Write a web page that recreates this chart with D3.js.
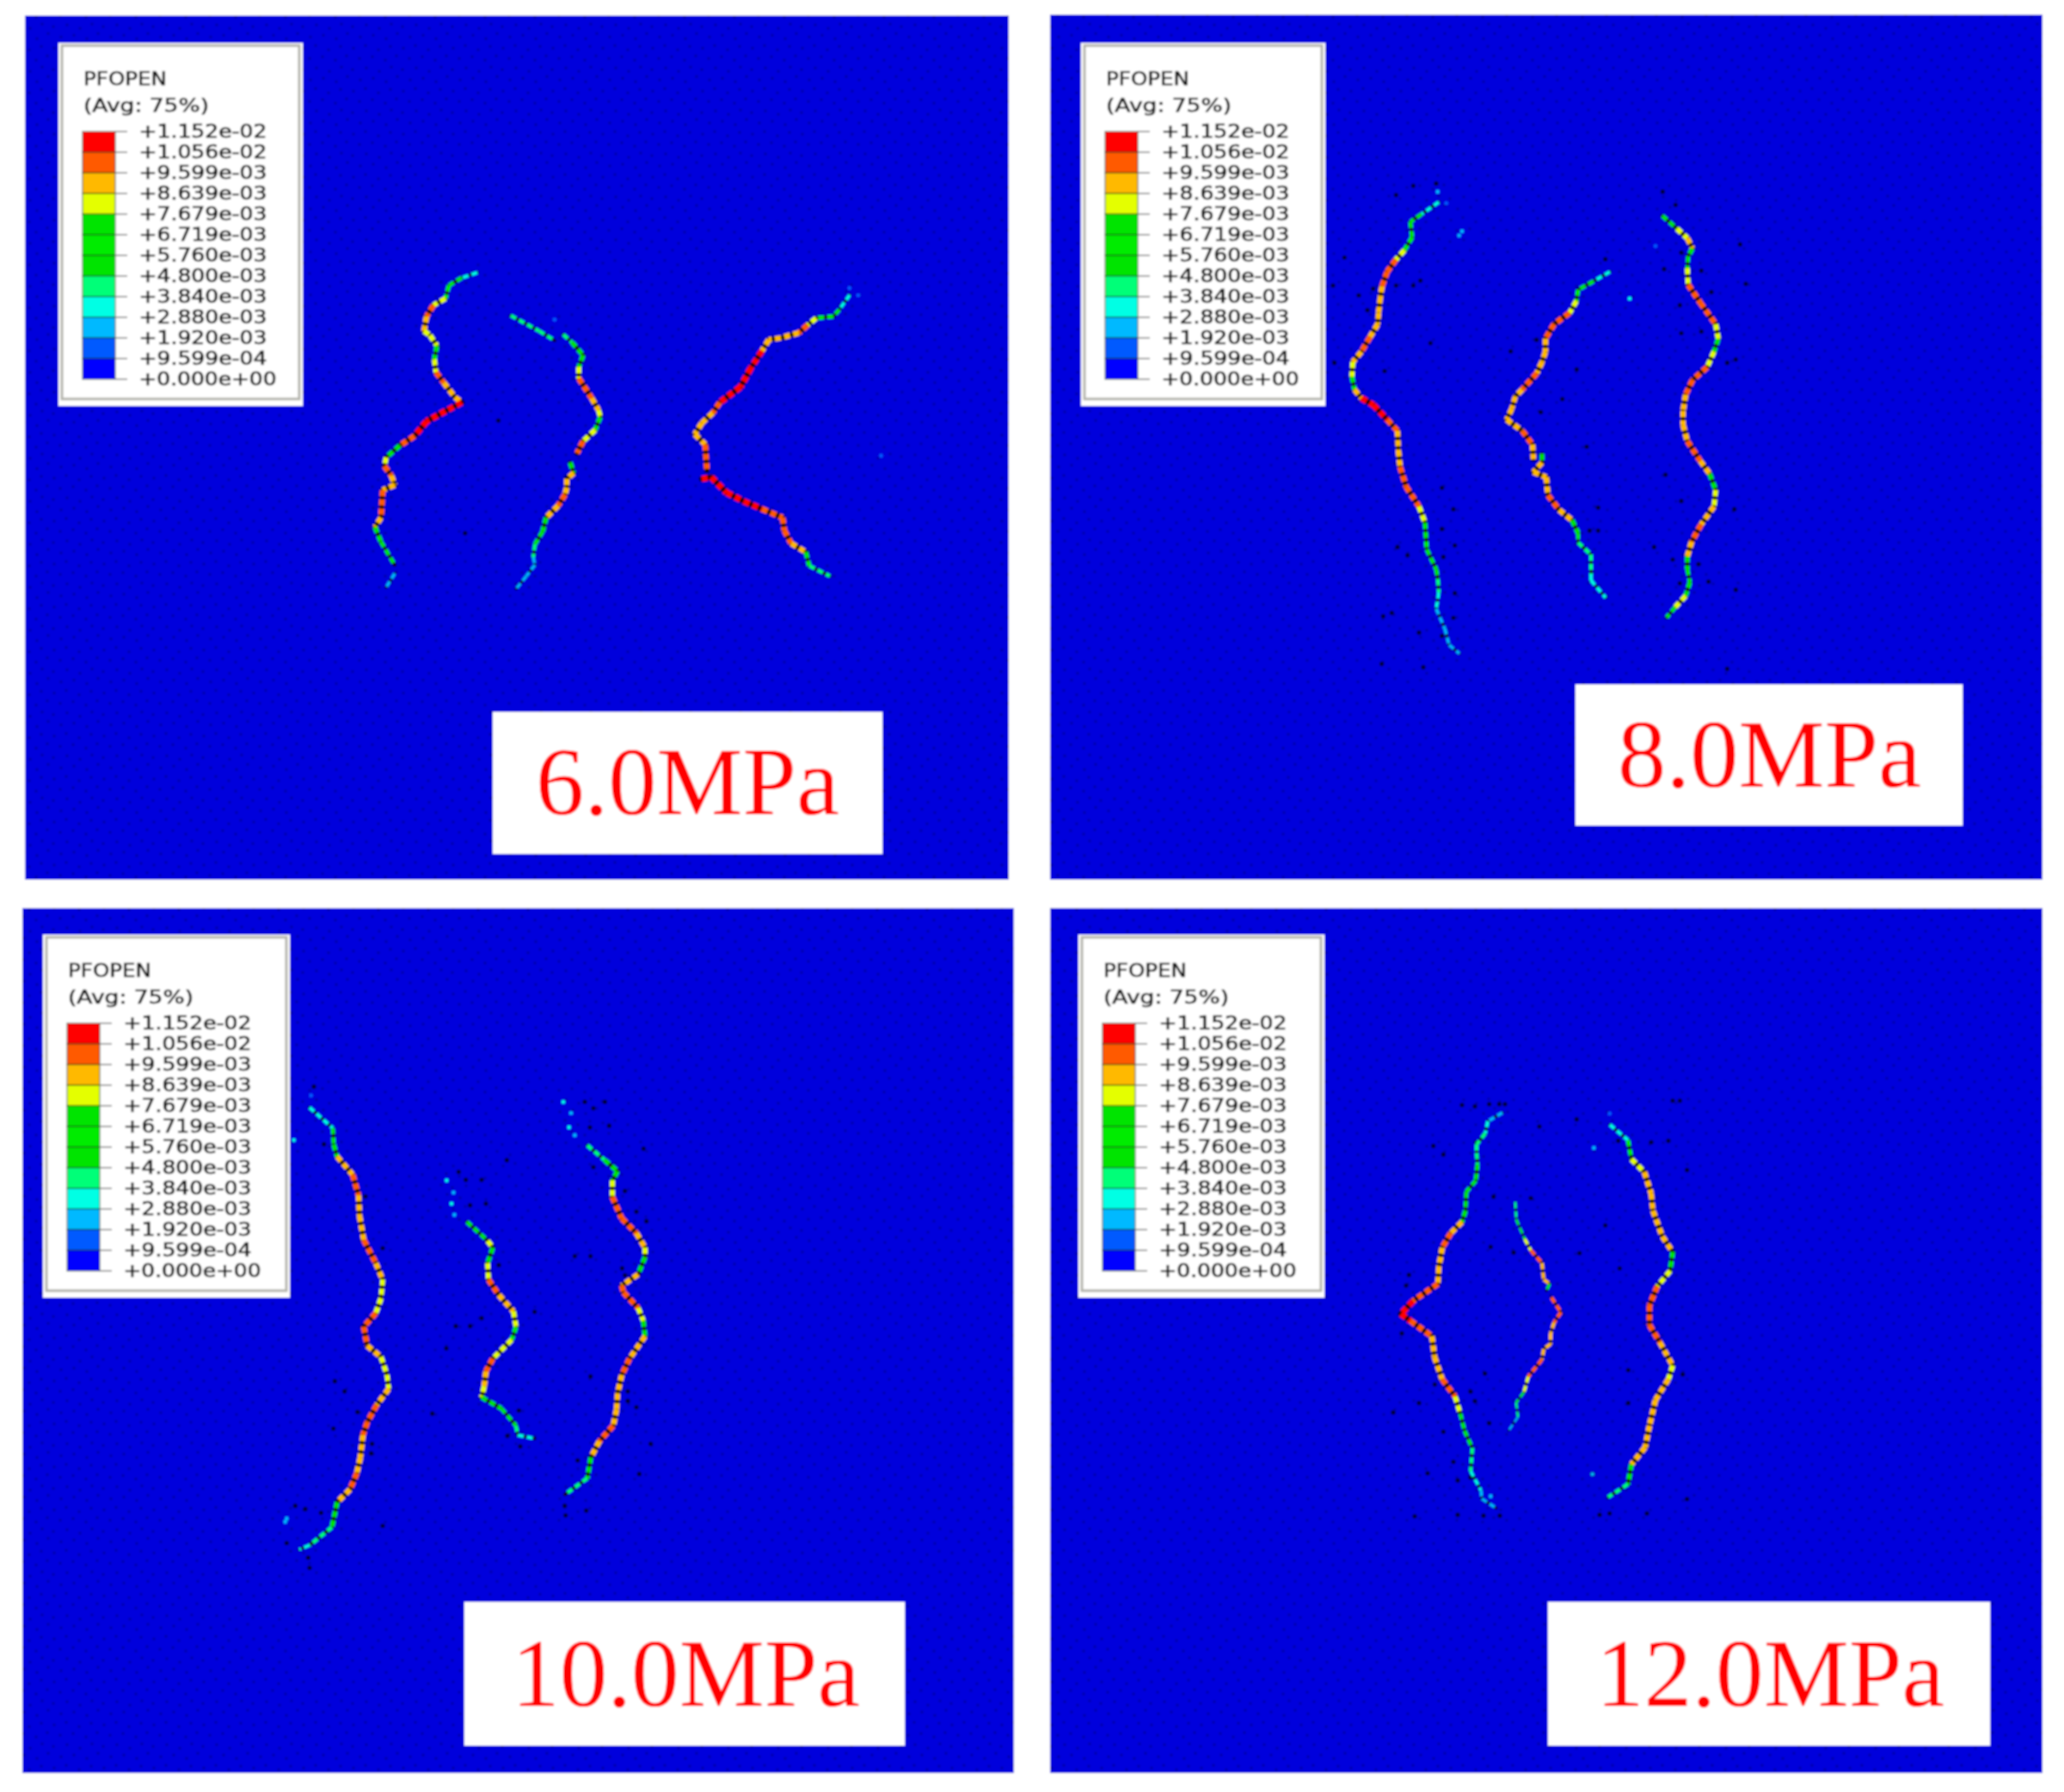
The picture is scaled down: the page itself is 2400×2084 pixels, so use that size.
<!DOCTYPE html>
<html><head><meta charset="utf-8">
<style>html,body{margin:0;padding:0;background:#fff}svg{display:block}</style>
<script src="https://cdn.jsdelivr.net/npm/d3@7/dist/d3.min.js"></script>
</head><body><div id="chart"></div>
<script>
// ---- DATA ----
const tickLabels = ["+1.152e-02","+1.056e-02","+9.599e-03","+8.639e-03","+7.679e-03","+6.719e-03","+5.760e-03","+4.800e-03","+3.840e-03","+2.880e-03","+1.920e-03","+9.599e-04","+0.000e+00"];
const bandColors = ["#ff0000","#ff5a00","#ffb900","#e4ff00","#00e400","#00ec00","#00e400","#00ff78","#00ffe4","#00b9ff","#005aff","#0000ff"];
const levels = [10.56,9.599,8.639,7.679,6.719,5.76,4.8,3.84,2.88,1.92,0.9599];
const legendTitle = ["PFOPEN","(Avg: 75%)"];
const pressures = ["6.0MPa","8.0MPa","10.0MPa","12.0MPa"];

// crack paths: [x, y, opening (1e-3)] in panel coordinates
const crack6a = [[526,299,2],[508,305,5],[493,314,6],[489,329,6],[475,337,10],[467,350,10],[464,367,9],[471,372,8],[479,384,8.5],[476,400,6],[478,415,10],[487,427,10],[500,444,9],[508,450,10],[489,460,11.5],[467,472,11.5],[453,489,11.5],[436,500,9],[420,514,6],[418,524,10],[426,535,10],[430,546,9],[416,552,10],[414,584,10.5],[407,595,8],[414,612,7],[430,639,4]];
const crack6a2 = [[430,649,3],[420,665,2.5]];
const crack6b = [[565,349,3],[598,367,5],[616,378,3]];
const crack6c = [[626,371,3],[636,380,6],[649,395,8.5],[644,409,6],[644,422,10],[659,445,10],[667,459,8.5],[669,467,7],[663,482,7],[649,495,10],[642,509,10]];
const crack6d = [[634,520,5],[638,532,10],[630,539,9],[630,549,9],[628,557,10],[620,570,10],[606,584,9],[602,600,6],[593,615,5.5],[591,630,3],[593,639,2.5],[583,652,2.5],[571,667,2]];
const crack6e = [[959,325,2.5],[947,342,4],[940,350,6],[920,352,6],[910,360,10],[900,369,10],[879,375,9],[865,377,9],[857,390,10],[844,410,11.5],[832,432,11.5],[808,450,11.5],[800,462,8.5],[787,474,10],[779,487,9],[791,499,10],[793,529,10]];
const crack6f = [[787,539,10],[798,537,11.5],[816,555,11.5],[836,565,11.5],[857,574,10.5],[881,584,10],[883,599,10],[891,614,10],[908,624,8],[912,640,5],[936,652,3.5]];

const crack8a = [[452,218,2.5],[432,232,5],[419,241,5.5],[421,259,6],[412,274,7],[402,285,10],[392,299,10],[386,316,10],[384,329,9],[382,347,9],[381,360,9],[372,375,10],[362,392,10],[352,404,8.5],[351,421,8],[354,436,6],[362,446,11.5],[376,454,11.5],[392,471,10.5],[404,484,9],[405,507,9],[407,526,10],[414,549,10],[429,572,10],[436,591,7],[438,622,6],[449,645,5.5],[451,657,5.5],[452,672,3.5],[449,691,2.8],[459,714,2.8],[464,733,2.5],[476,743,2]];
const crack8b = [[651,299,2],[632,310,5],[614,320,6],[612,333,6],[604,347,10],[586,360,10],[576,377,10],[576,392,9],[572,404,9],[566,417,10],[549,436,10],[541,444,9],[537,458,8.5],[531,471,9],[549,484,10],[561,500,10],[562,517,9]];
const crack8c = [[572,511,6],[572,521,8],[562,532,10],[577,538,9],[579,559,10],[592,576,10],[607,588,9],[614,603,6],[614,614,4],[629,628,5.5],[629,651,3],[629,658,4],[646,678,3]];
const crack8d = [[712,234,3.5],[729,249,8],[741,260,9],[747,272,9],[742,281,5],[741,295,6],[742,314,10],[756,335,10.5],[774,360,9],[777,377,8],[772,392,6],[764,410,10],[747,425,10],[739,442,10],[736,461,9],[736,477,9],[741,496,10],[756,519,10],[767,534,8],[774,553,7],[772,572,8.5],[757,593,10],[746,613,10],[741,630,9],[741,645,6],[744,660,5],[739,676,9],[727,689,7],[717,701,4]];

const crack10a = [[334,232,2.5],[361,256,5],[362,275,6],[366,289,8],[384,310,10],[391,334,10],[392,358,9],[397,386,10],[411,413,10],[419,432,8.5],[417,454,7],[411,471,10],[397,487,10],[401,509,10],[417,522,9],[424,543,7],[426,559,8.5],[412,578,10],[401,598,10],[396,613,10],[393,639,9],[389,657,10],[381,676,10],[366,691,9],[360,720,6],[334,741,3.5],[322,746,2.5]];
const crack10b = [[517,365,3.5],[541,387,8],[547,395,8.5],[541,413,6],[542,432,10],[554,450,10],[571,469,9],[574,487,7],[569,502,6],[547,524,10],[539,539,10],[537,556,9],[534,569,8],[557,582,5.5],[574,602,5],[576,613,4],[596,617,3]];
const crack10c = [[657,276,3.5],[677,293,6],[692,306,9],[686,317,6],[686,336,10],[697,361,10.5],[714,378,10],[724,395,9],[724,406,7],[716,426,8],[697,439,10],[699,447,10],[716,465,10],[722,480,6],[724,498,8.5],[706,524,10],[697,543,10],[692,565,9],[691,583,9],[687,602,10],[671,620,10],[661,639,9],[657,663,6],[631,682,3.5]];

const crack12a = [[526,238,2],[509,248,3.5],[506,262,3.5],[496,275,5],[496,285,3.5],[497,298,5.5],[495,317,6],[484,330,5],[483,352,6],[479,365,8],[466,378,10],[456,395,10],[452,418,9],[451,437,9],[422,457,11],[408,472,11.5],[419,480,11],[444,498,10],[447,522,9],[456,548,10],[471,568,10],[477,588,6],[482,608,5],[491,628,5.5],[489,655,2.8],[501,677,3],[502,687,2.5],[519,698,2]];
const crack12b = [[541,342,4],[542,362,5],[552,385,6],[559,398,10],[572,413,10],[574,432,9],[581,437,8.5],[577,445,4]];
const crack12c = [[583,453,10],[594,470,10],[586,482,10],[582,495,9],[582,507,10],[574,513,9],[572,525,10],[556,545,10],[551,563,6],[542,575,5],[544,592,3],[533,608,2.5]];
const crack12d = [[651,252,2.5],[672,270,5],[676,292,7],[691,307,10],[699,332,9],[701,352,9],[712,382,10],[724,400,8.5],[721,422,6],[706,440,10],[697,462,10],[697,485,10],[709,505,10],[724,532,8],[719,548,8.5],[704,572,10],[697,602,9],[692,627,10],[676,647,9],[672,670,6],[649,685,3]];

// dark speckles and stray opened elements, on the read-off grid of each panel's crack zone
const specks6 = [[440,597],[345,990]];
const specks8 = [[310,70],[370,42],[450,35],[130,260],[90,345],[230,355],[310,345],[370,345],[395,330],[180,375],[210,420],[430,520],[95,580],[270,605],[800,510],[710,545],[940,600],[890,690],[815,730],[1305,490],[1375,485],[1495,570],[1465,580],[1240,60],[1285,100],[1305,245],[1375,300],[1245,295],[1510,220],[1410,365],[1530,340],[1300,405],[975,835],[1250,920],[1305,1000],[1490,1025],[1015,1020],[1015,1090],[985,1090],[1210,1140],[1275,1178],[1365,1192],[1300,1250],[1400,1245],[470,1085],[515,1135],[475,1170],[350,1165],[315,1140],[515,1280],[295,1340],[510,1355],[390,1400],[265,1350],[405,1505],[260,1495],[470,960],[510,1025],[470,1410],[1465,1510],[1495,1270],[1040,265]];
const specks10 = [[1110,85],[1140,105],[1180,85],[1128,165],[1195,160],[670,305],[695,330],[750,330],[765,405],[710,410],[838,268],[1315,232],[1140,290],[1075,570],[1130,570],[1240,608],[1250,365],[1290,430],[1325,460],[1250,630],[810,598],[935,745],[750,765],[660,790],[710,790],[627,860],[578,1065],[880,1055],[1130,948],[1260,995],[1260,1025],[1290,1045],[1085,1212],[1340,1160],[1300,1255],[1043,1385],[1040,1355],[233,1112],[190,1377],[405,1418],[150,1550],[70,1472],[145,1518],[368,1160],[365,1190],[317,1060],[272,995],[238,963],[405,545],[345,382],[200,218],[165,37],[135,1365],[100,1355],[840,1135],[885,1168],[1115,1370]];
const specks12 = [[395,72],[430,72],[450,72],[300,75],[345,80],[570,150],[350,205],[235,248],[200,218],[410,395],[540,400],[400,570],[710,592],[850,645],[480,590],[380,1012],[330,1075],[345,1108],[395,1185],[235,1215],[285,1385],[180,1360],[330,1375],[285,1505],[375,1508],[432,1508],[135,1510],[800,495],[960,205],[845,200],[1085,302],[1020,200],[880,1000],[880,1115],[1070,1015],[780,1505],[815,1500],[945,1500],[1085,1450],[755,1363],[700,125],[1060,60],[1035,60],[270,1320],[205,1050],[150,1115],[60,1148],[90,872],[115,668],[105,705]];
const strays6 = [[600,245,1.5],[1530,720,1],[1440,135,1.5],[1465,160,1]];
const strays8 = [[540,180,2.5],[530,193,2],[1125,385,3],[1215,225,1.5],[455,60,2],[485,95,1.5]];
const strays10 = [[95,205,3],[70,1395,2.5],[65,1405,2],[628,332,3],[652,370,2.5],[645,405,3],[655,440,2.5],[1035,85,3],[1062,120,2.5],[1055,165,3],[1075,190,2.5],[155,65,1.5]];
const strays12 = [[760,225,2],[755,1363,2],[815,105,1.5],[400,1440,2]];

// ---- LAYOUT ----
const W = 2400, H = 2084;
const panels = [
  {x0:29,  x1:1173, y0:18,   y1:1023, lx:68,   ly:50,   lw:284, box:[573,1026,828,993],  tx:[623,976],  by:947,
   cracks:[crack6a,crack6a2,crack6b,crack6c,crack6d,crack6e,crack6f], specks:specks6, strays:strays6, grid:{w:1568,h:1260,x:[400,1040],y:[290,710]}},
  {x0:1221,x1:2375, y0:17,   y1:1023, lx:1257, ly:50,   lw:284, box:[1832,2282,796,960], tx:[1881,2234],by:915,
   cracks:[crack8a,crack8b,crack8c,crack8d], specks:specks8, strays:strays8, grid:{w:1560,h:1568,x:[1520,2040],y:[200,800]}},
  {x0:26,  x1:1179, y0:1056, y1:2062, lx:50,   ly:1087, lw:287, box:[540,1052,1863,2030],tx:[595,1000], by:1984,
   cracks:[crack10a,crack10b,crack10c], specks:specks10, strays:strays10, grid:{w:1440,h:1568,x:[310,790],y:[1250,1830]}},
  {x0:1221,x1:2375, y0:1056, y1:2062, lx:1254, ly:1087, lw:286, box:[1800,2314,1863,2030],tx:[1856,2261],by:1984,
   cracks:[crack12a,crack12b,crack12c,crack12d], specks:specks12, strays:strays12, grid:{w:1140,h:1560,x:[1600,1980],y:[1260,1780]}}
];
const legendH = 422;
const thinCracks = new Set([crack12b,crack12c]);

// ---- SCALES ----
const colorOf = d3.scaleThreshold().domain(levels.slice().reverse()).range(bandColors.slice().reverse());
const widthOf = d3.scaleLinear().domain([2,11.5]).range([3,7.4]).clamp(true);

const svg = d3.select("#chart").append("svg").attr("width",W).attr("height",H).attr("viewBox",`0 0 ${W} ${H}`);
const defs = svg.append("defs");
defs.append("filter").attr("id","soft")
    .attr("filterUnits","userSpaceOnUse").attr("x",0).attr("y",0).attr("width",W).attr("height",H)
  .append("feGaussianBlur").attr("stdDeviation",1);
const tex = defs.append("pattern").attr("id","mesh").attr("patternUnits","userSpaceOnUse").attr("width",58).attr("height",50);
[[5,6],[19,3],[34,8],[48,4],[12,18],[27,16],[42,20],[55,15],[4,31],[20,29],[35,33],[49,28],[13,43],[28,41],[43,45],[56,39]]
  .forEach(p=>tex.append("circle").attr("cx",p[0]).attr("cy",p[1]).attr("r",1.8).attr("fill","#0000ac"));

const root = svg.append("g").attr("filter","url(#soft)");
root.append("rect").attr("width",W).attr("height",H).attr("fill","#fff");

panels.forEach((p,i)=>{
  const g = root.append("g");
  const pw = p.x1-p.x0, ph = p.y1-p.y0;
  const x = d3.scaleLinear().domain([0,pw]).range([p.x0,p.x1]);
  const y = d3.scaleLinear().domain([0,ph]).range([p.y0,p.y1]);
  const gx = d3.scaleLinear().domain([0,p.grid.w]).range(p.grid.x);
  const gy = d3.scaleLinear().domain([0,p.grid.h]).range(p.grid.y);
  g.append("rect").attr("x",p.x0).attr("y",p.y0).attr("width",pw).attr("height",ph).attr("fill","#0000dc");
  g.append("rect").attr("x",p.x0).attr("y",p.y0).attr("width",pw).attr("height",ph).attr("fill","url(#mesh)");

  g.append("g").selectAll("circle").data(p.specks).join("circle")
    .attr("cx",d=>gx(d[0])).attr("cy",d=>gy(d[1])).attr("r",2.6).attr("fill","#000030");
  g.append("g").selectAll("circle").data(p.strays).join("circle")
    .attr("cx",d=>gx(d[0])).attr("cy",d=>gy(d[1])).attr("r",2.2).attr("fill",d=>colorOf(d[2]));

  const line = d3.line().x(d=>x(d[0])).y(d=>y(d[1]));
  p.cracks.forEach(c=>{
    const k = thinCracks.has(c) ? 0.62 : 1;
    const mid = d => (d[0][2]+d[1][2])/2;
    const cg = g.append("g").attr("fill","none");
    cg.selectAll("path.back").data(d3.pairs(c)).join("path").attr("class","back")
      .attr("d",d=>line(d)).attr("stroke","#0a0500")
      .attr("stroke-width",d=>widthOf(mid(d))*k*0.92).attr("stroke-linecap","round");
    cg.selectAll("path.seg").data(d3.pairs(c)).join("path").attr("class","seg")
      .attr("d",d=>line(d))
      .attr("stroke",d=>colorOf(mid(d)))
      .attr("stroke-width",d=>widthOf(mid(d))*k)
      .attr("stroke-dasharray","7 3.8");
  });

  // pressure label
  const b = p.box;
  g.append("rect").attr("x",b[0]).attr("y",b[2]).attr("width",b[1]-b[0]).attr("height",b[3]-b[2]).attr("fill","#fff");
  g.append("text").attr("x",p.tx[0]).attr("y",p.by)
    .attr("textLength",p.tx[1]-p.tx[0]).attr("lengthAdjust","spacingAndGlyphs")
    .attr("font-family","'Liberation Serif'").attr("font-size",112).attr("fill","#ff0000").text(pressures[i]);

  // contour legend
  const L = g.append("g").attr("transform",`translate(${p.lx},${p.ly})`);
  L.append("rect").attr("width",p.lw).attr("height",legendH).attr("fill","#fff");
  L.append("rect").attr("x",4).attr("y",3).attr("width",p.lw-8).attr("height",legendH-11)
    .attr("fill","none").attr("stroke","#b4b4ac").attr("stroke-width",3);
  L.selectAll("text.t").data(legendTitle).join("text").attr("class","t")
    .attr("x",29).attr("y",(d,j)=>49+j*31).attr("font-family","'DejaVu Sans'").attr("font-size",20.5)
    .attr("fill","#111").attr("stroke","#111").attr("stroke-width",0.6)
    .attr("textLength",(d,j)=>j?146:97).attr("lengthAdjust","spacingAndGlyphs").text(d=>d);
  const ty = d3.scalePoint().domain(tickLabels).range([103,391]);
  L.selectAll("rect.b").data(bandColors).join("rect").attr("class","b")
    .attr("x",28).attr("width",38)
    .attr("y",(d,j)=>ty(tickLabels[j])).attr("height",(d,j)=>ty(tickLabels[j+1])-ty(tickLabels[j]))
    .attr("fill",d=>d).attr("stroke","#1d3a1d").attr("stroke-opacity",0.55).attr("stroke-width",1.4);
  L.selectAll("line.k").data(tickLabels).join("line").attr("class","k")
    .attr("x1",66).attr("x2",80).attr("y1",d=>ty(d)).attr("y2",d=>ty(d)).attr("stroke","#8a8a8a").attr("stroke-width",1.6);
  L.selectAll("text.v").data(tickLabels).join("text").attr("class","v")
    .attr("x",93.5).attr("y",d=>ty(d)+6.5).attr("font-family","'DejaVu Sans'").attr("font-size",20.5)
    .attr("fill","#111").attr("stroke","#111").attr("stroke-width",0.6)
    .attr("textLength",d=>d.endsWith("+00")?160:149).attr("lengthAdjust","spacingAndGlyphs").text(d=>d);
});
</script></body></html>
